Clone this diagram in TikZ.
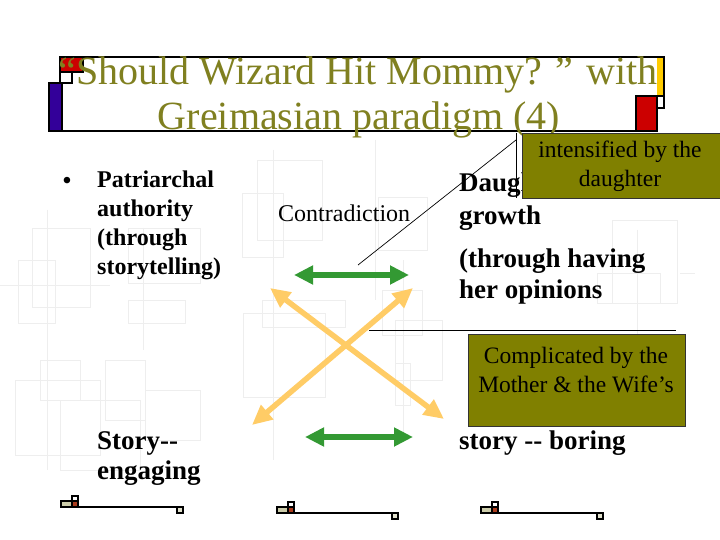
\documentclass[tikz,border=0pt]{standalone}
\usepackage{fontspec}
\setmainfont{Liberation Serif}
\usetikzlibrary{arrows.meta}
\definecolor{olivetxt}{RGB}{128,128,32}
\definecolor{olivebox}{RGB}{128,128,0}
\definecolor{arrgreen}{RGB}{51,153,51}
\definecolor{arrorange}{RGB}{255,204,102}
\definecolor{mblue}{RGB}{51,0,153}
\definecolor{mred}{RGB}{204,0,0}
\definecolor{myellow}{RGB}{255,204,0}
\definecolor{beige}{RGB}{204,204,170}
\definecolor{brick}{RGB}{170,60,30}
\definecolor{bggrid}{RGB}{238,238,238}
\newcommand\dhy{\mbox{-}\mbox{-}}
\tikzset{
  bgrect/.style={draw=bggrid, line width=0.8pt},
  frameline/.style={line width=2.5pt, draw=black},
  titletext/.style={font=\fontsize{40}{40}\selectfont, text=olivetxt, anchor=base, inner sep=0pt},
  lbody/.style={font=\fontsize{24}{28}\selectfont\bfseries, anchor=base west, inner sep=0pt},
  rbody/.style={font=\fontsize{27}{30}\selectfont\bfseries, anchor=base west, inner sep=0pt},
  ctext/.style={font=\fontsize{23.5}{28}\selectfont, anchor=base, inner sep=0pt},
  cbox/.style={draw=black!80, line width=1pt, fill=olivebox, inner sep=0pt},
  leader/.style={draw=black, line width=0.7pt},
  garrow/.style={draw=arrgreen, line width=6pt,
     {Triangle[length=19pt,width=18pt]}-{Triangle[length=19pt,width=18pt]}},
  oarrow/.style={draw=arrorange, line width=5.5pt,
     {Triangle[length=20pt,width=18pt]}-{Triangle[length=20pt,width=18pt]}},
  decoline/.style={draw=black, line width=1.6pt},
}
\begin{document}
\begin{tikzpicture}[x=1pt,y=-1pt]
\useasboundingbox (0,0) rectangle (720,540);
\fill[white] (0,0) rectangle (720,540);

% faint background pattern
\draw[bgrect] (32,228) rectangle (90,307);
\draw[bgrect] (18,260) rectangle (55,323);
\draw[bgrect] (128,228) rectangle (200,283);
\draw[bgrect] (128,300) rectangle (185,323);
\draw[bgrect] (0,285) -- (110,285);
\draw[bgrect] (47,210) -- (47,470);
\draw[bgrect] (143,228) -- (143,350);
\draw[bgrect] (242,193) rectangle (283,257);
\draw[bgrect] (257,160) rectangle (322,240);
\draw[bgrect] (262,300) rectangle (345,327);
\draw[bgrect] (243,313) rectangle (325,397);
\draw[bgrect] (273,150) -- (273,460);
\draw[bgrect] (382,290) rectangle (422,335);
\draw[bgrect] (395,320) rectangle (442,380);
\draw[bgrect] (395,363) rectangle (410,405);
\draw[bgrect] (403,260) -- (403,440);
\draw[bgrect] (375,140) -- (375,300);
\draw[bgrect] (378,197) rectangle (427,250);
\draw[bgrect] (612,220) rectangle (677,303);
\draw[bgrect] (597,273) rectangle (660,303);
\draw[bgrect] (637,230) -- (637,340);
\draw[bgrect] (680,273) -- (695,273);
\draw[bgrect] (15,380) rectangle (100,455);
\draw[bgrect] (40,360) rectangle (80,400);
\draw[bgrect] (105,360) rectangle (145,420);
\draw[bgrect] (145,390) rectangle (200,440);
\draw[bgrect] (60,400) rectangle (140,470);

% title frame
\draw[frameline] (49,131) -- (657,131) -- (657,108) -- (664,108) -- (664,57) -- (60,57) -- (60,83);
\fill[myellow] (657,58) rectangle (663,95);
\draw[frameline, fill=mblue] (49,83) rectangle (62,131);
\draw[frameline, fill=mred] (60,57) rectangle (83,72);
\draw[frameline, fill=white] (60,72) rectangle (72,83);
\draw[frameline, fill=mred] (636,96) rectangle (657,131);
\draw[frameline, fill=white] (657,96) rectangle (664,108);

\node[titletext] (t1) at (358,85) {“Should Wizard Hit Mommy? ” with};
\node[titletext] (t2) at (359,130) {Greimasian paradigm (4)};

% left text
\node[font=\fontsize{24}{28}\selectfont\bfseries, anchor=base, inner sep=0pt] (bul) at (67,189) {•};
\node[lbody] (l1) at (97,188) {Patriarchal};
\node[lbody] (l2) at (97,217) {authority};
\node[lbody] (l3) at (97,245) {(through};
\node[lbody] (l4) at (97,274) {storytelling)};

\node[font=\fontsize{24}{28}\selectfont, anchor=base west, inner sep=0pt] (contra) at (278,222) {Contradiction};

% right text
\node[rbody] (r1) at (459,192) {Daughter’s};
\node[rbody] (r2) at (459,225) {growth};
\node[rbody] (r3) at (459,267) {(through having};
\node[rbody] (r4) at (459,298) {her opinions};

\node[rbody] (s1) at (97,449) {Story\dhy};
\node[rbody] (s2) at (97,479) {engaging};
\node[rbody] (s3) at (459,449) {story \dhy{} boring};

% arrows
\coordinate (g1l) at (294,275);
\coordinate (g1r) at (409,275);
\coordinate (g2l) at (305,437);
\coordinate (g2r) at (413,437);
\coordinate (o1a) at (270,288);
\coordinate (o1b) at (444,419);
\coordinate (o2a) at (252,425);
\coordinate (o2b) at (413,288);
\draw[garrow] (g1l) -- (g1r);
\draw[garrow] (g2l) -- (g2r);
\draw[oarrow] (o1a) -- (o1b);
\draw[oarrow] (o2a) -- (o2b);

% callout 1
\coordinate (c1top) at (516,133);
\coordinate (c1bot) at (516,198);
\coordinate (c1knee) at (516,140);
\coordinate (c1tip) at (358,265);
\draw[leader] (c1top) -- (c1bot);
\draw[leader] (c1knee) -- (c1tip);
\node[cbox, minimum width=198pt, minimum height=65pt, anchor=north west] (cb1) at (522,133) {};
\node[ctext] (cb1a) at (620,158) {intensified by the};
\node[ctext] (cb1b) at (620,187) {daughter};

% callout 2
\coordinate (c2l) at (369,330);
\coordinate (c2r) at (676,330);
\draw[leader] (c2l) -- (c2r);
\node[cbox, minimum width=217pt, minimum height=92pt, anchor=north west] (cb2) at (468,334) {};
\node[ctext] (cb2a) at (576,363) {Complicated by the};
\node[ctext] (cb2b) at (576,392) {Mother \& the Wife’s};

% bottom decorations
\foreach \ox/\oy/\L [count=\i] in {61/501/122, 277/507/121, 481/507/122}{
  \draw[decoline] (\ox+17,\oy+6) -- (\ox+\L,\oy+6);
  \draw[decoline, fill=beige] (\ox,\oy) rectangle (\ox+11,\oy+6);
  \draw[decoline, fill=brick] (\ox+11,\oy) rectangle (\ox+17,\oy+6);
  \draw[decoline, fill=white] (\ox+11,\oy-5) rectangle (\ox+17,\oy);
  \draw[decoline, fill=beige!60] (\ox+\L-6,\oy+6) rectangle (\ox+\L,\oy+12);
}
\end{tikzpicture}
\end{document}
